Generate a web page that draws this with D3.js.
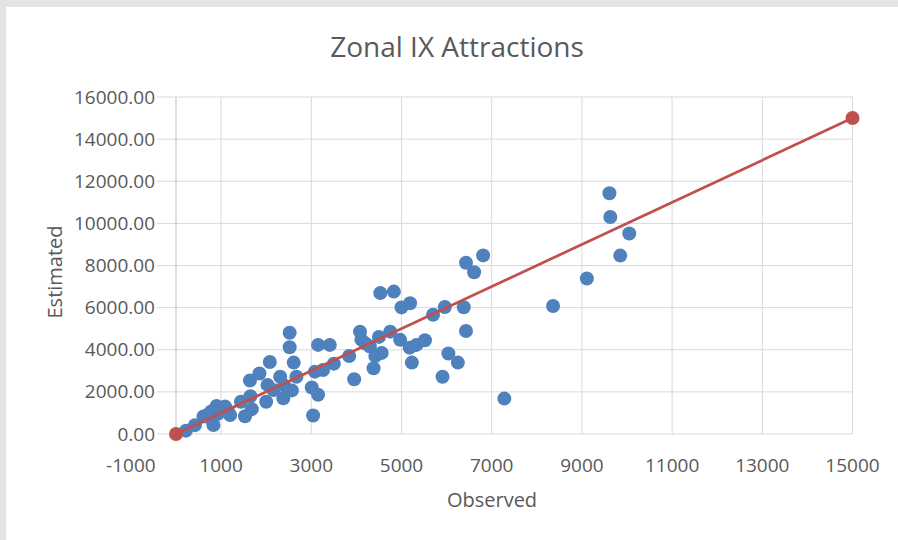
<!DOCTYPE html>
<html>
<head>
<meta charset="utf-8">
<script src="https://cdn.jsdelivr.net/npm/d3@7"></script>
<style>
  html, body { margin: 0; padding: 0; background: #e4e4e4; }
  svg { display: block; }
  text { font-family: "Open Sans", sans-serif; fill: #595959; }
</style>
</head>
<body>
<div id="chart"></div>
<script>
// observed vs estimated zonal attractions
const observed = [220, 420, 610, 780, 900, 1090, 830, 790, 930, 1200, 1440, 1530, 1650, 1680, 2000,
  1640, 1850, 2080, 2030, 2310, 2380, 2160, 2570, 2520, 2520, 2610, 2670, 3010, 3150, 3040,
  3080, 3260, 3500, 3150, 3410, 3840, 3950, 4080, 4110, 4300, 4380, 4420, 4560, 4500, 4750,
  4970, 5000, 5180, 5330, 5230, 5520, 4530, 4830, 5190, 5700, 5960, 6380, 6430, 6040, 6250,
  5910, 6430, 6610, 6810, 7280, 8360, 9110, 9610, 9630, 10050, 9850,
  1000, 1150, 700, 2400, 4200];
const estimated = [160, 420, 830, 1070, 1330, 1300, 430, 700, 960, 900, 1530, 840, 1790, 1180, 1530,
  2540, 2870, 3420, 2330, 2720, 1700, 2090, 2070, 4810, 4120, 3390, 2720, 2210, 1860, 880,
  2960, 3040, 3340, 4230, 4230, 3700, 2600, 4860, 4480, 4150, 3120, 3700, 3850, 4610, 4860,
  4470, 6010, 4100, 4230, 3390, 4450, 6690, 6760, 6210, 5660, 6030, 6020, 4890, 3820, 3390,
  2720, 8130, 7680, 8480, 1680, 6080, 7380, 11430, 10300, 9520, 8470,
  1200, 1100, 900, 2300, 4300];
// 1:1 reference line
const refLine = [[0, 0], [15000, 15000]];

const yTicks = [0, 2000, 4000, 6000, 8000, 10000, 12000, 14000, 16000];
const xTicks = [1000, 3000, 5000, 7000, 9000, 11000, 13000, 15000];
const xExtraLabel = -1000;

const width = 898, height = 540;
const svg = d3.select('#chart').append('svg')
    .attr('width', width)
    .attr('height', height);

svg.append('rect')
    .attr('x', 6).attr('y', 7)
    .attr('width', width - 6).attr('height', height - 7)
    .attr('fill', '#fff');

const x = d3.scaleLinear().domain([0, 15000]).range([176, 852.5]);
const y = d3.scaleLinear().domain([0, 16000]).range([434, 97]);

// gridlines
svg.append('g').selectAll('line')
    .data(yTicks)
    .join('line')
    .attr('x1', 157).attr('x2', x(15000))
    .attr('y1', d => y(d)).attr('y2', d => y(d))
    .attr('stroke', '#d9d9d9').attr('stroke-width', 1);

svg.append('g').selectAll('line')
    .data(xTicks)
    .join('line')
    .attr('x1', d => x(d)).attr('x2', d => x(d))
    .attr('y1', y(0)).attr('y2', y(16000))
    .attr('stroke', '#d9d9d9').attr('stroke-width', 1);

// vertical axis line
svg.append('line')
    .attr('x1', x(0)).attr('x2', x(0))
    .attr('y1', y(0)).attr('y2', y(16000))
    .attr('stroke', '#bfbfbf').attr('stroke-width', 1);

// tick labels
svg.append('g').selectAll('text')
    .data(yTicks)
    .join('text')
    .attr('x', 155)
    .attr('y', d => y(d) + 6.5)
    .attr('text-anchor', 'end')
    .style('font-size', '19px')
    .text(d => d3.format('.2f')(d));

svg.append('g').selectAll('text')
    .data([xExtraLabel].concat(xTicks))
    .join('text')
    .attr('x', d => x(d))
    .attr('y', 472)
    .attr('text-anchor', 'middle')
    .style('font-size', '19px')
    .text(d => d);

// axis titles
svg.append('text')
    .attr('x', 457).attr('y', 57)
    .attr('text-anchor', 'middle')
    .style('font-size', '28px')
    .text('Zonal IX Attractions');

svg.append('text')
    .attr('x', 492).attr('y', 507)
    .attr('text-anchor', 'middle')
    .style('font-size', '20px')
    .text('Observed');

svg.append('text')
    .attr('transform', 'translate(62,272) rotate(-90)')
    .attr('text-anchor', 'middle')
    .style('font-size', '20px')
    .text('Estimated');

// points
svg.append('g').selectAll('circle')
    .data(observed.map((d, i) => [d, estimated[i]]))
    .join('circle')
    .attr('cx', d => x(d[0]))
    .attr('cy', d => y(d[1]))
    .attr('r', 7)
    .attr('fill', '#4f81bd');

// 1:1 line
svg.append('path')
    .datum(refLine)
    .attr('d', d3.line().x(d => x(d[0])).y(d => y(d[1])))
    .attr('fill', 'none')
    .attr('stroke', '#c0504d')
    .attr('stroke-width', 2.75);

svg.append('g').selectAll('circle')
    .data(refLine)
    .join('circle')
    .attr('cx', d => x(d[0]))
    .attr('cy', d => y(d[1]))
    .attr('r', 7)
    .attr('fill', '#c0504d');
</script>
</body>
</html>
